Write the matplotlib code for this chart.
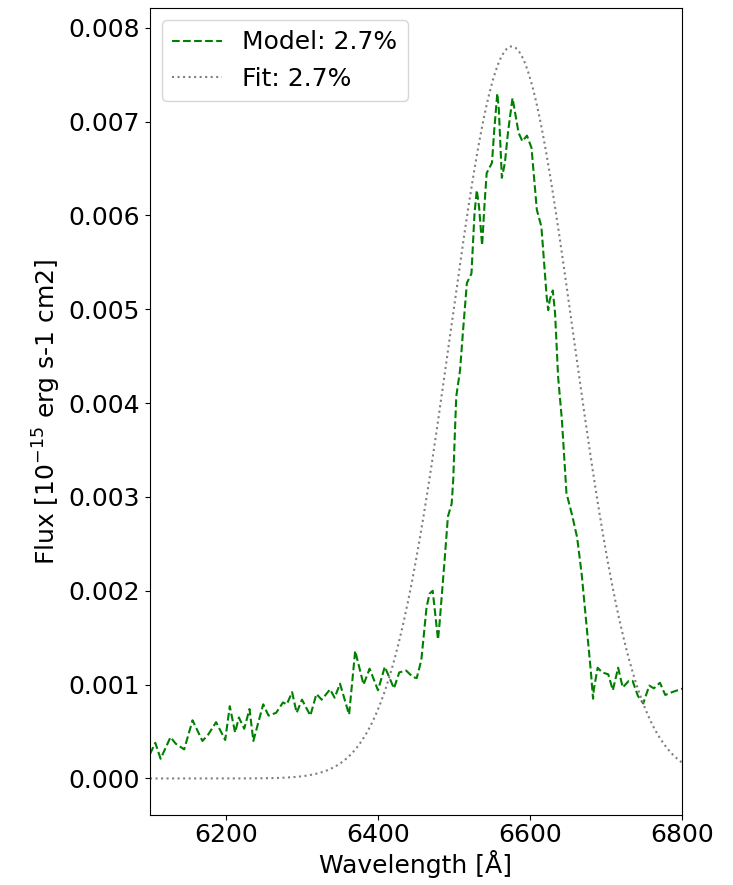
import numpy as np
import matplotlib.pyplot as plt

# Model spectrum around H-alpha
wavelength = [6100, 6107, 6114, 6127, 6134, 6145, 6156, 6169, 6176, 6187,
              6199, 6205, 6212, 6217, 6224, 6231, 6236, 6249, 6256, 6266,
              6275, 6280, 6287, 6293, 6300, 6311, 6319, 6326, 6337, 6343,
              6350, 6362, 6370, 6381, 6389, 6400, 6409, 6421, 6428, 6437,
              6446, 6451, 6457, 6464, 6468, 6472, 6479, 6481, 6488, 6492,
              6497, 6499, 6501, 6503, 6508, 6512, 6517, 6523, 6527, 6530,
              6533, 6537, 6540, 6543, 6550, 6553, 6557, 6559, 6563, 6567,
              6571, 6577, 6579, 6585, 6590, 6596, 6602, 6609, 6615, 6622,
              6624, 6626, 6630, 6633, 6637, 6642, 6648, 6655, 6662, 6668,
              6675, 6680, 6683, 6684, 6689, 6695, 6703, 6709, 6716, 6722,
              6730, 6735, 6742, 6749, 6757, 6763, 6771, 6778, 6787, 6798,
              6805]
flux_model = [0.00026, 0.00038, 0.00021, 0.00044, 0.00037, 0.00031, 0.00062, 0.00040, 0.00046, 0.00060,
              0.00041, 0.00077, 0.00049, 0.00065, 0.00053, 0.00074, 0.00040, 0.00079, 0.00067, 0.00070,
              0.00081, 0.00079, 0.00092, 0.00070, 0.00084, 0.00067, 0.00090, 0.00084, 0.00095, 0.00086,
              0.00101, 0.00068, 0.00136, 0.00100, 0.00117, 0.00094, 0.00119, 0.00096, 0.00113, 0.00115,
              0.00108, 0.00107, 0.00126, 0.00183, 0.00197, 0.00200, 0.00148, 0.00165, 0.00236, 0.00279,
              0.00293, 0.00318, 0.00364, 0.00407, 0.00435, 0.00478, 0.00528, 0.00538, 0.00602, 0.00627,
              0.00609, 0.00568, 0.00609, 0.00645, 0.00656, 0.00691, 0.00730, 0.00713, 0.00640, 0.00656,
              0.00688, 0.00725, 0.00716, 0.00688, 0.00679, 0.00685, 0.00672, 0.00606, 0.00588, 0.00513,
              0.00499, 0.00510, 0.00520, 0.00496, 0.00428, 0.00382, 0.00304, 0.00282, 0.00257, 0.00218,
              0.00158, 0.00115, 0.00085, 0.00095, 0.00118, 0.00113, 0.00111, 0.00094, 0.00118, 0.00097,
              0.00104, 0.00104, 0.00088, 0.00080, 0.00099, 0.00096, 0.00102, 0.00089, 0.00092, 0.00095,
              0.00097]

# Gaussian fit parameters
fit_amp = 0.0078
fit_center = 6576.0
fit_sigma = 81.0

labels = ["Model: 2.7%", "Fit: 2.7%"]


def gaussian(x, amp, mu, sigma):
    return amp * np.exp(-(x - mu) ** 2 / (2 * sigma ** 2))


def main():
    fig = plt.figure(figsize=(7.33, 8.85), dpi=100)
    ax = fig.add_axes([0.2046, 0.079, 0.7258, 0.912])

    wl_fit = np.linspace(6100, 6800, 700)
    ax.plot(wavelength, flux_model, "--", color="green", lw=1.5, label=labels[0])
    ax.plot(wl_fit, gaussian(wl_fit, fit_amp, fit_center, fit_sigma), ":",
            color="gray", lw=1.5, label=labels[1])

    ax.set_xlim(6100, 6800)
    ax.set_xticks([6200, 6400, 6600, 6800])
    ax.set_yticks(np.arange(0, 0.0081, 0.001))
    ax.set_ylim(-0.00039, 0.00821)
    ax.tick_params(labelsize=18)
    ax.tick_params(axis="x", pad=2.5)

    ax.set_xlabel("Wavelength [Å]", fontsize=18, labelpad=2)
    ax.set_ylabel("Flux [$10^{-15}$ erg s-1 cm2]", fontsize=18)
    ax.legend(loc="upper left", fontsize=18)

    fig.savefig("out.png", dpi=100)


if __name__ == "__main__":
    main()
